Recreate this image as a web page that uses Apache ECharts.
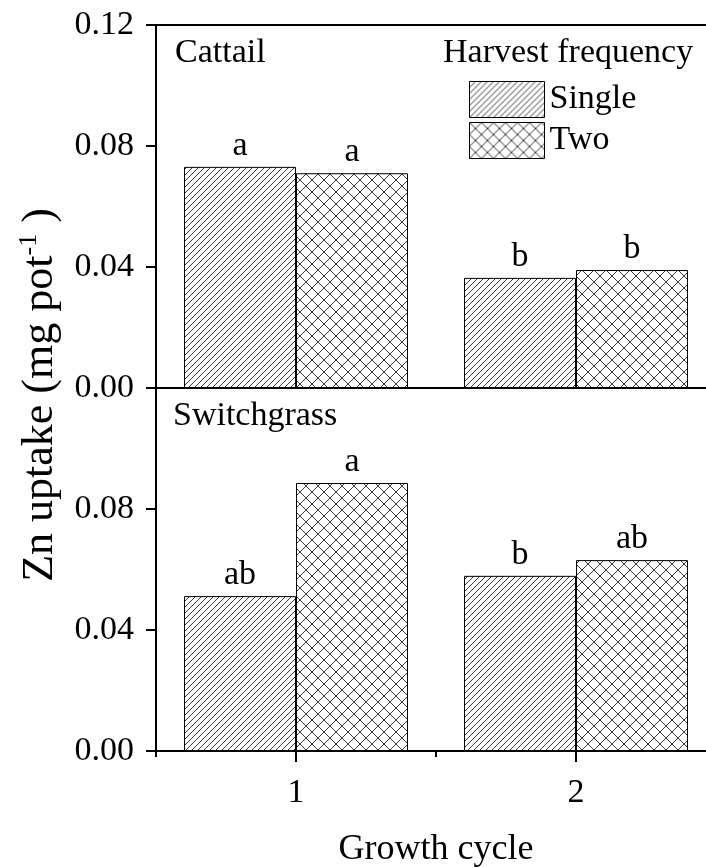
<!DOCTYPE html>
<html><head><meta charset="utf-8">
<script src="https://cdn.jsdelivr.net/npm/echarts@6/dist/echarts.min.js"></script>
<style>html,body{margin:0;padding:0;background:#fff}#c{width:706px;height:867px}</style>
</head><body><div id="c"></div><script>
const categories = ['1', '2'];
const cattailSingle = [0.0731, 0.0364];
const cattailTwo = [0.0710, 0.0390];
const switchSingle = [0.0512, 0.0579];
const switchTwo = [0.0886, 0.0631];
const cattailSingleLetters = ['a', 'b'];
const cattailTwoLetters = ['a', 'b'];
const switchSingleLetters = ['ab', 'b'];
const switchTwoLetters = ['a', 'ab'];
const yTicks = ['0.00', '0.04', '0.08', '0.12'];
const seriesNames = ['Single', 'Two'];

const F = '"Liberation Serif", "Times New Roman", serif';
const yMin = +yTicks[0], yMax = +yTicks[yTicks.length - 1], yStep = +yTicks[1] - +yTicks[0];

function hatchCanvas() {
  const s = 6, c = document.createElement('canvas');
  c.width = s; c.height = s;
  const g = c.getContext('2d');
  g.fillStyle = '#fff'; g.fillRect(0, 0, s, s);
  g.strokeStyle = '#222'; g.lineWidth = 0.9;
  g.beginPath();
  g.moveTo(0, s); g.lineTo(s, 0);
  g.moveTo(-1, 1); g.lineTo(1, -1);
  g.moveTo(s - 1, s + 1); g.lineTo(s + 1, s - 1);
  g.stroke();
  return c;
}
function crossCanvas() {
  const s = 12, c = document.createElement('canvas');
  c.width = s; c.height = s;
  const g = c.getContext('2d');
  g.fillStyle = '#fff'; g.fillRect(0, 0, s, s);
  g.strokeStyle = '#222'; g.lineWidth = 0.9;
  g.beginPath();
  g.moveTo(0, 0); g.lineTo(s, s);
  g.moveTo(0, s); g.lineTo(s, 0);
  g.stroke();
  return c;
}
const patSingle = { image: hatchCanvas(), repeat: 'repeat' };
const patTwo = { image: crossCanvas(), repeat: 'repeat' };

function bar(name, data, letters, idx) {
  return {
    type: 'bar', name, data,
    xAxisIndex: idx === 0 ? 0 : 2, yAxisIndex: idx,
    barGap: '0%', barCategoryGap: '20%',
    itemStyle: { color: name === 'Single' ? patSingle : patTwo, borderColor: '#000', borderWidth: 1 },
    label: { show: true, position: 'top', distance: 4, formatter: p => letters[p.dataIndex],
      fontFamily: F, fontSize: 34, color: '#000' },
    emphasis: { disabled: true }, silent: true
  };
}

const axisLine = { show: true, lineStyle: { color: '#000', width: 2 } };
function yAxis(gi, hideTop) {
  return {
    type: 'value', gridIndex: gi, min: yMin, max: yMax, interval: yStep,
    axisLine, splitLine: { show: false },
    axisTick: { show: true, length: 10, lineStyle: { color: '#000', width: 2 } },
    axisLabel: { margin: 22, fontFamily: F, fontSize: 34, color: '#000',
      formatter: v => (hideTop && Math.abs(v - yMax) < 1e-9) ? '' : yTicks[Math.round((v - yMin) / yStep)] }
  };
}

const chart = echarts.init(document.getElementById('c'), null, { renderer: 'canvas' });
chart.setOption({
  animation: false,
  grid: [
    { left: 156, width: 560, top: 25, height: 363, outerBoundsMode: 'none', containLabel: false },
    { left: 156, width: 560, top: 388, height: 363, outerBoundsMode: 'none', containLabel: false }
  ],
  xAxis: [
    { type: 'category', gridIndex: 0, data: categories, position: 'bottom', axisLine,
      axisTick: { show: false }, axisLabel: { show: false } },
    { type: 'category', gridIndex: 0, data: categories, position: 'top', axisLine,
      axisTick: { show: false }, axisLabel: { show: false } },
    { type: 'category', gridIndex: 1, data: categories, position: 'bottom', axisLine,
      axisTick: { show: true, alignWithLabel: true, length: 11, lineStyle: { color: '#000', width: 2 } },
      axisLabel: { margin: 25, fontFamily: F, fontSize: 34, color: '#000' },
      name: 'Growth cycle', nameLocation: 'middle', nameGap: 81,
      nameTextStyle: { fontFamily: F, fontSize: 36, color: '#000' } },
    { type: 'category', gridIndex: 1, data: categories, position: 'bottom', axisLine: { show: false },
      axisTick: { show: true, length: 6, lineStyle: { color: '#000', width: 2 } },
      axisLabel: { show: false } }
  ],
  yAxis: [yAxis(0, false), yAxis(1, true)],
  legend: {
    data: seriesNames, orient: 'vertical', left: 464, top: 76,
    itemWidth: 75, itemHeight: 36, itemGap: 4, icon: 'rect', selectedMode: false,
    itemStyle: { borderColor: '#000', borderWidth: 1 },
    textStyle: { fontFamily: F, fontSize: 34, color: '#000' }
  },
  graphic: [
    { type: 'text', left: 175, top: 36, silent: true,
      style: { text: 'Cattail', font: '34px ' + F, fill: '#000' } },
    { type: 'text', left: 443, top: 36, silent: true,
      style: { text: 'Harvest frequency', font: '34px ' + F, fill: '#000' } },
    { type: 'text', left: 173, top: 399, silent: true,
      style: { text: 'Switchgrass', font: '34px ' + F, fill: '#000' } },
    { type: 'text', x: 40, y: 395, rotation: Math.PI / 2, silent: true,
      style: { text: '{a|Zn uptake (mg pot}{b|-1}{a| )}', align: 'center', verticalAlign: 'middle',
        fill: '#000',
        rich: {
          a: { fontFamily: F, fontSize: 44, lineHeight: 48, fill: '#000' },
          b: { fontFamily: F, fontSize: 26, lineHeight: 26, verticalAlign: 'top', fill: '#000' }
        } } }
  ],
  series: [
    bar('Single', cattailSingle, cattailSingleLetters, 0),
    bar('Two', cattailTwo, cattailTwoLetters, 0),
    bar('Single', switchSingle, switchSingleLetters, 1),
    bar('Two', switchTwo, switchTwoLetters, 1)
  ]
});
</script></body></html>
